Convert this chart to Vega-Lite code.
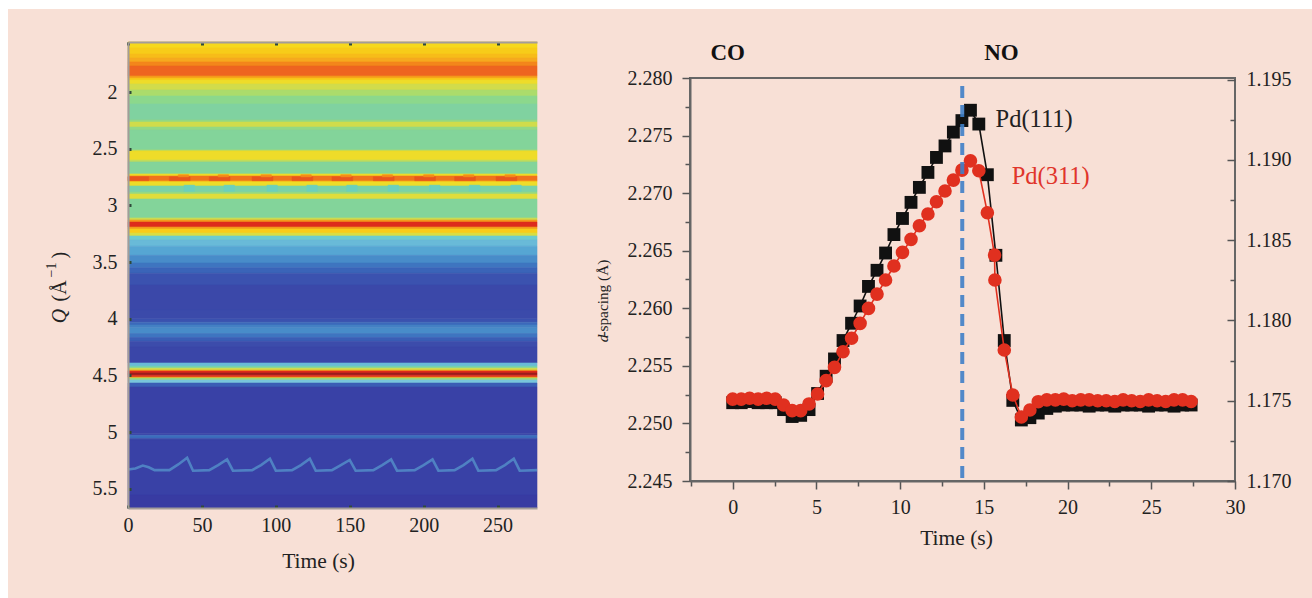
{"$schema":"https://vega.github.io/schema/vega-lite/v6.json","padding":0,"background":"#f8e0d6","bounds":"flush","spacing":0,
"config":{"view":{"stroke":null},"axis":{"grid":false,"labelFlush":false,"labelFont":"Liberation Serif","titleFont":"Liberation Serif","labelFontSize":20,"titleFontSize":21.5,"titleFontWeight":"normal","labelColor":"#222","titleColor":"#222","tickColor":"#555","domainColor":"#666"},"text":{"font":"Liberation Serif"}},
"vconcat":[
{"width":1312,"height":9,"view":{"fill":"#ffffff","stroke":null},"data":{"values":[]},"mark":"point"},
{"bounds":"flush","spacing":0,"hconcat":[
{"width":8,"height":589,"view":{"fill":"#ffffff","stroke":null},"data":{"values":[]},"mark":"point"},
{"width":120,"height":10,"data":{"values":[]},"mark":"point"},
{"bounds":"flush","spacing":0,"vconcat":[
{"width":409,"height":33,"data":{"values":[]},"mark":"point"},
{"width":409,"height":466,
"resolve":{"axis":{"x":"independent","y":"independent"}},
"encoding":{"x":{"field":"t","type":"quantitative","scale":{"domain":[0,276.7]},"axis":null},"y":{"field":"q","type":"quantitative","scale":{"domain":[1.559,5.669],"reverse":true},"axis":null}},
"layer":[
{"data":{"values":[
{"t":0,"t2":276.7,"q":1.559,"q2":1.612,"v":0.57},{"t":0,"t2":276.7,"q":1.612,"q2":1.665,"v":0.6},{"t":0,"t2":276.7,"q":1.665,"q2":1.7,"v":0.64},{"t":0,"t2":276.7,"q":1.7,"q2":1.735,"v":0.69},{"t":0,"t2":276.7,"q":1.735,"q2":1.771,"v":0.75},{"t":0,"t2":276.7,"q":1.771,"q2":1.859,"v":0.8},{"t":0,"t2":276.7,"q":1.859,"q2":1.877,"v":0.72},{"t":0,"t2":276.7,"q":1.877,"q2":1.894,"v":0.62},{"t":0,"t2":276.7,"q":1.894,"q2":1.929,"v":0.55},{"t":0,"t2":276.7,"q":1.929,"q2":1.982,"v":0.51},{"t":0,"t2":276.7,"q":1.982,"q2":2.035,"v":0.47},{"t":0,"t2":276.7,"q":2.035,"q2":2.106,"v":0.43},{"t":0,"t2":276.7,"q":2.106,"q2":2.247,"v":0.4},{"t":0,"t2":276.7,"q":2.247,"q2":2.265,"v":0.44},{"t":0,"t2":276.7,"q":2.265,"q2":2.309,"v":0.51},{"t":0,"t2":276.7,"q":2.309,"q2":2.335,"v":0.44},{"t":0,"t2":276.7,"q":2.335,"q2":2.512,"v":0.41},{"t":0,"t2":276.7,"q":2.512,"q2":2.52,"v":0.48},{"t":0,"t2":276.7,"q":2.52,"q2":2.6,"v":0.55},{"t":0,"t2":276.7,"q":2.6,"q2":2.617,"v":0.49},{"t":0,"t2":276.7,"q":2.617,"q2":2.723,"v":0.41},{"t":0,"t2":276.7,"q":2.723,"q2":2.741,"v":0.55},{"t":0,"t2":276.7,"q":2.741,"q2":2.785,"v":0.78},{"t":0,"t2":276.7,"q":2.785,"q2":2.794,"v":0.64},{"t":0,"t2":276.7,"q":2.794,"q2":2.829,"v":0.55},{"t":0,"t2":276.7,"q":2.829,"q2":2.882,"v":0.39},{"t":0,"t2":276.7,"q":2.882,"q2":2.9,"v":0.44},{"t":0,"t2":276.7,"q":2.9,"q2":2.944,"v":0.53},{"t":0,"t2":276.7,"q":2.944,"q2":3.111,"v":0.41},{"t":0,"t2":276.7,"q":3.111,"q2":3.129,"v":0.5},{"t":0,"t2":276.7,"q":3.129,"q2":3.147,"v":0.72},{"t":0,"t2":276.7,"q":3.147,"q2":3.191,"v":0.9},{"t":0,"t2":276.7,"q":3.191,"q2":3.208,"v":0.72},{"t":0,"t2":276.7,"q":3.208,"q2":3.244,"v":0.6},{"t":0,"t2":276.7,"q":3.244,"q2":3.27,"v":0.52},{"t":0,"t2":276.7,"q":3.27,"q2":3.305,"v":0.33},{"t":0,"t2":276.7,"q":3.305,"q2":3.36,"v":0.28},{"t":0,"t2":276.7,"q":3.36,"q2":3.44,"v":0.25},{"t":0,"t2":276.7,"q":3.44,"q2":3.508,"v":0.21},{"t":0,"t2":276.7,"q":3.508,"q2":3.55,"v":0.17},{"t":0,"t2":276.7,"q":3.55,"q2":3.6,"v":0.14},{"t":0,"t2":276.7,"q":3.6,"q2":3.702,"v":0.11},{"t":0,"t2":276.7,"q":3.702,"q2":3.923,"v":0.08},{"t":0,"t2":276.7,"q":3.923,"q2":4.0,"v":0.09},{"t":0,"t2":276.7,"q":4.0,"q2":4.03,"v":0.11},{"t":0,"t2":276.7,"q":4.03,"q2":4.055,"v":0.15},{"t":0,"t2":276.7,"q":4.055,"q2":4.08,"v":0.19},{"t":0,"t2":276.7,"q":4.08,"q2":4.13,"v":0.21},{"t":0,"t2":276.7,"q":4.13,"q2":4.165,"v":0.17},{"t":0,"t2":276.7,"q":4.165,"q2":4.2,"v":0.13},{"t":0,"t2":276.7,"q":4.2,"q2":4.25,"v":0.1},{"t":0,"t2":276.7,"q":4.25,"q2":4.39,"v":0.07},{"t":0,"t2":276.7,"q":4.39,"q2":4.417,"v":0.28},{"t":0,"t2":276.7,"q":4.417,"q2":4.434,"v":0.38},{"t":0,"t2":276.7,"q":4.434,"q2":4.452,"v":0.5},{"t":0,"t2":276.7,"q":4.452,"q2":4.461,"v":0.7},{"t":0,"t2":276.7,"q":4.461,"q2":4.478,"v":0.9},{"t":0,"t2":276.7,"q":4.478,"q2":4.498,"v":0.98},{"t":0,"t2":276.7,"q":4.498,"q2":4.514,"v":0.9},{"t":0,"t2":276.7,"q":4.514,"q2":4.523,"v":0.7},{"t":0,"t2":276.7,"q":4.523,"q2":4.54,"v":0.45},{"t":0,"t2":276.7,"q":4.54,"q2":4.567,"v":0.3},{"t":0,"t2":276.7,"q":4.567,"q2":4.602,"v":0.13},{"t":0,"t2":276.7,"q":4.602,"q2":5.015,"v":0.05},{"t":0,"t2":276.7,"q":5.015,"q2":5.03,"v":0.09},{"t":0,"t2":276.7,"q":5.03,"q2":5.055,"v":0.16},{"t":0,"t2":276.7,"q":5.055,"q2":5.07,"v":0.09},{"t":0,"t2":276.7,"q":5.07,"q2":5.554,"v":0.05},{"t":0,"t2":276.7,"q":5.554,"q2":5.669,"v":0.02},
{"t":0,"t2":14,"q":2.748,"q2":2.782,"v":0.83},{"t":28,"t2":42,"q":2.748,"q2":2.782,"v":0.83},{"t":55,"t2":69,"q":2.748,"q2":2.782,"v":0.83},{"t":84,"t2":98,"q":2.748,"q2":2.782,"v":0.83},{"t":111,"t2":125,"q":2.748,"q2":2.782,"v":0.83},{"t":138,"t2":152,"q":2.748,"q2":2.782,"v":0.83},{"t":166,"t2":180,"q":2.748,"q2":2.782,"v":0.83},{"t":194,"t2":208,"q":2.748,"q2":2.782,"v":0.83},{"t":221,"t2":235,"q":2.748,"q2":2.782,"v":0.83},{"t":249,"t2":263,"q":2.748,"q2":2.782,"v":0.83},
{"t":34,"t2":41,"q":2.73,"q2":2.748,"v":0.74},{"t":61,"t2":68,"q":2.73,"q2":2.748,"v":0.74},{"t":90,"t2":97,"q":2.73,"q2":2.748,"v":0.74},{"t":117,"t2":124,"q":2.73,"q2":2.748,"v":0.74},{"t":144,"t2":151,"q":2.73,"q2":2.748,"v":0.74},{"t":172,"t2":179,"q":2.73,"q2":2.748,"v":0.74},{"t":200,"t2":207,"q":2.73,"q2":2.748,"v":0.74},{"t":227,"t2":234,"q":2.73,"q2":2.748,"v":0.74},{"t":255,"t2":262,"q":2.73,"q2":2.748,"v":0.74},
{"t":38,"t2":45,"q":2.822,"q2":2.875,"v":0.36},{"t":65,"t2":72,"q":2.822,"q2":2.875,"v":0.36},{"t":94,"t2":101,"q":2.822,"q2":2.875,"v":0.36},{"t":121,"t2":128,"q":2.822,"q2":2.875,"v":0.36},{"t":148,"t2":155,"q":2.822,"q2":2.875,"v":0.36},{"t":176,"t2":183,"q":2.822,"q2":2.875,"v":0.36},{"t":204,"t2":211,"q":2.822,"q2":2.875,"v":0.36},{"t":231,"t2":238,"q":2.822,"q2":2.875,"v":0.36},{"t":259,"t2":266,"q":2.822,"q2":2.875,"v":0.36}
]},"mark":{"type":"rect","strokeWidth":0.6},
"encoding":{"x":{"field":"t","type":"quantitative","scale":{"domain":[0,276.7]},"axis":{"orient":"bottom","zindex":1,"values":[0,50,100,150,200,250],"format":"d","tickSize":-3,"tickWidth":3,"tickColor":"#2f4a3a","labelPadding":10,"domainColor":"#a39c99","domainWidth":2,"title":"Time (s)","titleX":190,"titleY":53,"titleBaseline":"middle"}},"x2":{"field":"t2"},
"y":{"field":"q","type":"quantitative","scale":{"domain":[1.559,5.669],"reverse":true},"axis":{"orient":"left","zindex":1,"values":[2,2.5,3,3.5,4,4.5,5,5.5],"format":"~g","tickSize":-3,"tickWidth":3,"tickColor":"#2f4a3a","labelPadding":14,"domainColor":"#a39c99","domainWidth":2,"title":null}},"y2":{"field":"q2"},
"color":{"field":"v","type":"quantitative","legend":null,"scale":{"domain":[0,0.1,0.2,0.3,0.4,0.5,0.56,0.7,0.8,0.9,1],"range":["#3836a0","#3c4cab","#4785c6","#78c6dc","#80d2a0","#cbdc52","#f6dc1e","#f5a51f","#ee6420","#dd2b1c","#8c1c1c"]}},
"stroke":{"field":"v","type":"quantitative","legend":null,"scale":{"domain":[0,0.1,0.2,0.3,0.4,0.5,0.56,0.7,0.8,0.9,1],"range":["#3836a0","#3c4cab","#4785c6","#78c6dc","#80d2a0","#cbdc52","#f6dc1e","#f5a51f","#ee6420","#dd2b1c","#8c1c1c"]}}}},
{"data":{"values":[{"t":0,"q":5.33},{"t":5,"q":5.32},{"t":10,"q":5.295},{"t":14,"q":5.31},{"t":18,"q":5.335},{"t":28,"q":5.335},{"t":34,"q":5.285},{"t":40,"q":5.225},{"t":44,"q":5.34},{"t":55,"q":5.335},{"t":61,"q":5.29},{"t":67,"q":5.24},{"t":71,"q":5.34},{"t":84,"q":5.335},{"t":90,"q":5.29},{"t":96,"q":5.235},{"t":100,"q":5.34},{"t":111,"q":5.335},{"t":117,"q":5.29},{"t":123,"q":5.235},{"t":127,"q":5.34},{"t":138,"q":5.335},{"t":144,"q":5.29},{"t":150,"q":5.245},{"t":154,"q":5.34},{"t":166,"q":5.335},{"t":172,"q":5.29},{"t":178,"q":5.24},{"t":182,"q":5.34},{"t":194,"q":5.335},{"t":200,"q":5.29},{"t":206,"q":5.24},{"t":210,"q":5.34},{"t":221,"q":5.335},{"t":227,"q":5.29},{"t":233,"q":5.235},{"t":237,"q":5.34},{"t":249,"q":5.335},{"t":255,"q":5.29},{"t":261,"q":5.235},{"t":265,"q":5.34},{"t":276.7,"q":5.335}]},
"mark":{"type":"line","stroke":"#5797cc","strokeWidth":2.6,"opacity":0.75},"encoding":{}},
{"data":{"values":[]},"mark":"point","encoding":{"x":{"field":"t","type":"quantitative","scale":{"domain":[0,276.7]},"axis":{"orient":"top","zindex":1,"values":[0,50,100,150,200,250],"labels":false,"tickSize":-3,"tickWidth":3,"tickColor":"#2f4a3a","domainColor":"#a39c99","domainWidth":2,"title":null}}}},
{"data":{"values":[{"t":-46,"q":3.976,"s":"Q"}]},"mark":{"type":"text","fontSize":20,"fontStyle":"italic","angle":270,"fill":"#222"},"encoding":{"text":{"field":"s"}}},
{"data":{"values":[{"t":-46,"q":3.755,"s":"(Å"},{"t":-46,"q":3.44,"s":")"}]},"mark":{"type":"text","fontSize":20,"angle":270,"fill":"#222"},"encoding":{"text":{"field":"s"}}},
{"data":{"values":[{"t":-51.4,"q":3.57,"s":"−1"}]},"mark":{"type":"text","fontSize":14,"angle":270,"fill":"#222"},"encoding":{"text":{"field":"s"}}}
]},
{"width":409,"height":90,"data":{"values":[]},"mark":"point"}
]},
{"width":562,"height":10,"data":{"values":[]},"mark":"point"},
{"bounds":"flush","spacing":0,"vconcat":[
{"width":545,"height":69,"data":{"values":[]},"mark":"point"},
{"width":545,"height":403,"view":{"stroke":"#666","strokeWidth":2},
"resolve":{"scale":{"y":"independent"},"axis":{"x":"independent","y":"independent"}},
"encoding":{"x":{"field":"t","type":"quantitative","scale":{"domain":[-2.55,30]},"axis":null},"y":{"field":"v","type":"quantitative","scale":{"domain":[2.245,2.28]},"axis":null}},
"layer":[
{"data":{"values":[]},"mark":"point","encoding":{
"x":{"field":"t","type":"quantitative","scale":{"domain":[-2.55,30]},"axis":{"orient":"bottom","values":[-2.5,2.5,7.5,12.5,17.5,22.5,27.5],"labels":false,"tickSize":5,"tickWidth":1.5,"domain":false,"title":null}},
"y":{"field":"v","type":"quantitative","scale":{"domain":[2.245,2.28]},"axis":{"orient":"left","values":[2.2475,2.2525,2.2575,2.2625,2.2675,2.2725,2.2775],"labels":false,"tickSize":5,"tickWidth":1.5,"domain":false,"title":null}}}},
{"data":{"values":[]},"mark":"point","encoding":{
"y":{"field":"v","type":"quantitative","scale":{"domain":[1.17,1.1951]},"axis":{"orient":"right","values":[1.1725,1.1775,1.1825,1.1875,1.1925],"labels":false,"tickSize":-5,"tickWidth":1.5,"domain":false,"title":null}}}},
{"data":{"values":[{"t":0,"v":2.2518},{"t":0.51,"v":2.2518},{"t":1.01,"v":2.2519},{"t":1.52,"v":2.2518},{"t":2.03,"v":2.2518},{"t":2.54,"v":2.2518},{"t":3.04,"v":2.2512},{"t":3.55,"v":2.2506},{"t":4.06,"v":2.2507},{"t":4.56,"v":2.2512},{"t":5.07,"v":2.2526},{"t":5.58,"v":2.2541},{"t":6.08,"v":2.2556},{"t":6.59,"v":2.2572},{"t":7.1,"v":2.2587},{"t":7.61,"v":2.2602},{"t":8.11,"v":2.2619},{"t":8.62,"v":2.2633},{"t":9.13,"v":2.2648},{"t":9.63,"v":2.2664},{"t":10.14,"v":2.2678},{"t":10.65,"v":2.2692},{"t":11.15,"v":2.2705},{"t":11.66,"v":2.2718},{"t":12.17,"v":2.2731},{"t":12.68,"v":2.2741},{"t":13.18,"v":2.2753},{"t":13.69,"v":2.2763},{"t":14.2,"v":2.2772},{"t":14.7,"v":2.276},{"t":15.21,"v":2.2716},{"t":15.72,"v":2.2646},{"t":16.22,"v":2.2572},{"t":16.73,"v":2.252},{"t":17.24,"v":2.2503},{"t":17.75,"v":2.2505},{"t":18.25,"v":2.2509},{"t":18.76,"v":2.2513},{"t":19.27,"v":2.2515},{"t":19.77,"v":2.2516},{"t":20.28,"v":2.2516},{"t":20.79,"v":2.2516},{"t":21.29,"v":2.2515},{"t":21.8,"v":2.2516},{"t":22.31,"v":2.2516},{"t":22.82,"v":2.2515},{"t":23.32,"v":2.2516},{"t":23.83,"v":2.2516},{"t":24.34,"v":2.2516},{"t":24.84,"v":2.2515},{"t":25.35,"v":2.2516},{"t":25.86,"v":2.2516},{"t":26.36,"v":2.2515},{"t":26.87,"v":2.2516},{"t":27.38,"v":2.2516}]},
"mark":{"type":"line","stroke":"#111","strokeWidth":1.6,"point":{"shape":"square","size":165,"filled":true,"fill":"#111","opacity":1}},
"encoding":{
"x":{"field":"t","type":"quantitative","scale":{"domain":[-2.55,30]},"axis":{"orient":"bottom","values":[0,5,10,15,20,25,30],"format":"d","tickSize":8,"tickWidth":1.5,"domainWidth":2,"labelPadding":8,"title":"Time (s)","titleX":266,"titleY":57,"titleBaseline":"middle"}},
"y":{"field":"v","type":"quantitative","scale":{"domain":[2.245,2.28]},"axis":{"orient":"left","values":[2.245,2.25,2.255,2.26,2.265,2.27,2.275,2.28],"format":".3f","tickSize":8,"tickWidth":1.5,"domainWidth":2,"labelPadding":10,"title":null}}}},
{"data":{"values":[{"t":0,"v":1.1751},{"t":0.51,"v":1.1751},{"t":1.01,"v":1.17515},{"t":1.52,"v":1.1751},{"t":2.03,"v":1.17515},{"t":2.54,"v":1.1751},{"t":3.04,"v":1.17473},{"t":3.55,"v":1.17438},{"t":4.06,"v":1.17438},{"t":4.56,"v":1.1748},{"t":5.07,"v":1.17542},{"t":5.58,"v":1.17625},{"t":6.08,"v":1.17708},{"t":6.59,"v":1.17805},{"t":7.1,"v":1.17889},{"t":7.61,"v":1.17982},{"t":8.11,"v":1.18075},{"t":8.62,"v":1.18164},{"t":9.13,"v":1.18252},{"t":9.63,"v":1.18339},{"t":10.14,"v":1.18424},{"t":10.65,"v":1.18505},{"t":11.15,"v":1.1859},{"t":11.66,"v":1.18663},{"t":12.17,"v":1.18739},{"t":12.68,"v":1.18806},{"t":13.18,"v":1.18874},{"t":13.69,"v":1.18936},{"t":14.2,"v":1.18994},{"t":14.7,"v":1.18932},{"t":15.21,"v":1.18671},{"t":15.64,"v":1.18407},{"t":15.66,"v":1.18252},{"t":16.22,"v":1.17816},{"t":16.73,"v":1.17536},{"t":17.24,"v":1.17399},{"t":17.75,"v":1.17442},{"t":18.25,"v":1.17494},{"t":18.76,"v":1.17505},{"t":19.27,"v":1.17505},{"t":19.77,"v":1.1751},{"t":20.28,"v":1.175},{"t":20.79,"v":1.17505},{"t":21.29,"v":1.17505},{"t":21.8,"v":1.175},{"t":22.31,"v":1.175},{"t":22.82,"v":1.17495},{"t":23.32,"v":1.17505},{"t":23.83,"v":1.175},{"t":24.34,"v":1.17495},{"t":24.84,"v":1.17505},{"t":25.35,"v":1.175},{"t":25.86,"v":1.17495},{"t":26.36,"v":1.17505},{"t":26.87,"v":1.17505},{"t":27.38,"v":1.17495}]},
"mark":{"type":"line","stroke":"#e0301f","strokeWidth":1.6,"point":{"shape":"circle","size":185,"filled":true,"fill":"#e0301f","opacity":1}},
"encoding":{"y":{"field":"v","type":"quantitative","scale":{"domain":[1.17,1.1951]},"axis":{"orient":"right","values":[1.17,1.175,1.18,1.185,1.19,1.195],"format":".3f","tickSize":-8,"tickWidth":1.5,"domain":false,"labelPadding":19,"title":null}}}},
{"data":{"values":[{"t":13.71,"v":2.2793,"b":2.245}]},"mark":{"type":"rule","stroke":"#3f7fc8","strokeWidth":4,"strokeDash":[12,7],"opacity":0.9},"encoding":{"y2":{"field":"b"}}},
{"data":{"values":[{"t":-0.3,"v":2.28214,"s":"CO"},{"t":16.05,"v":2.28214,"s":"NO"}]},"mark":{"type":"text","fontSize":23,"fontWeight":"bold","fill":"#111"},"encoding":{"text":{"field":"s"}}},
{"data":{"values":[{"t":15.7,"v":2.27633,"s":"Pd(111)"}]},"mark":{"type":"text","fontSize":24.5,"align":"left","fill":"#222"},"encoding":{"text":{"field":"s"}}},
{"data":{"values":[{"t":16.66,"v":2.2714,"s":"Pd(311)"}]},"mark":{"type":"text","fontSize":24.5,"align":"left","fill":"#e0352b"},"encoding":{"text":{"field":"s"}}},
{"data":{"values":[{"t":-7.76,"v":2.25738,"s":"d"}]},"mark":{"type":"text","fontSize":15.3,"fontStyle":"italic","angle":270,"fill":"#222"},"encoding":{"text":{"field":"s"}}},
{"data":{"values":[{"t":-7.76,"v":2.26088,"s":"-spacing (Å)"}]},"mark":{"type":"text","fontSize":15.3,"angle":270,"fill":"#222"},"encoding":{"text":{"field":"s"}}}
]},
{"width":545,"height":117,"data":{"values":[]},"mark":"point"}
]},
{"width":622,"height":10,"data":{"values":[]},"mark":"point"}
]}
]}
